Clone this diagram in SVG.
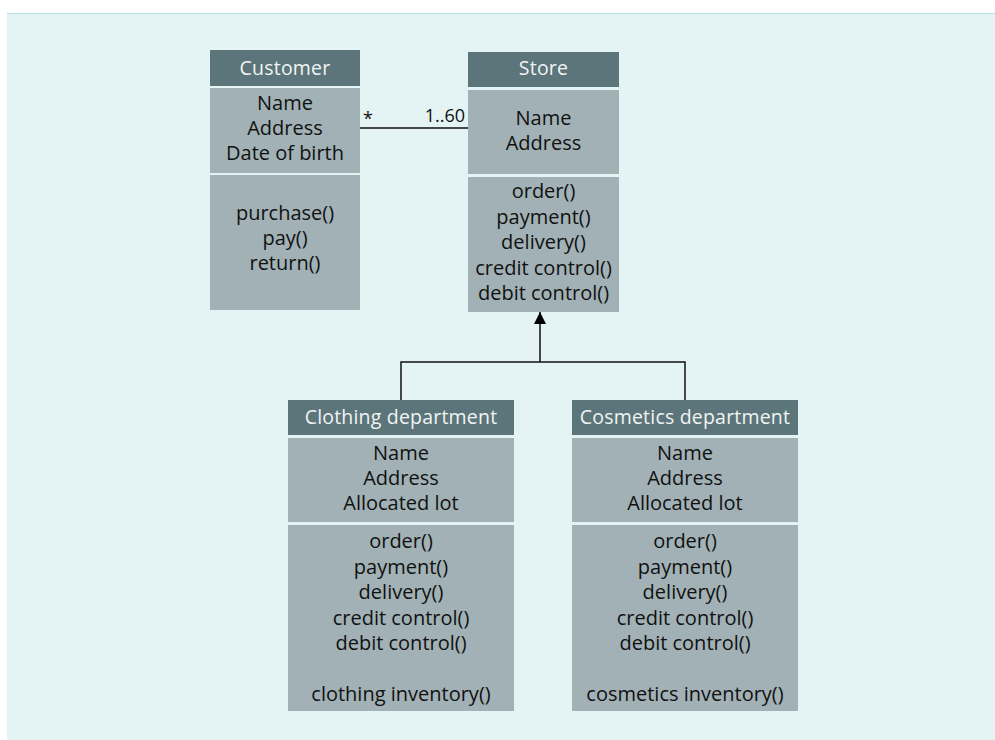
<svg xmlns="http://www.w3.org/2000/svg" width="995" height="740" viewBox="0 0 995 740">
  <style>
    .hdr { fill: #5b757a; }
    .body { fill: #a1b1b5; }
    .title { font-family: "Open Sans", "Noto Sans", sans-serif; font-size: 19.5px; fill: #f2f4f4; text-anchor: middle; letter-spacing: 0.2px; }
    .txt { font-family: "Open Sans", "Noto Sans", sans-serif; font-size: 20px; fill: #111; text-anchor: middle; }
    .mult { font-family: "Open Sans", "Noto Sans", sans-serif; font-size: 18px; fill: #111; }
    .line { stroke: #111; stroke-width: 1.5; fill: none; }
  </style>
  <defs>
    <marker id="inherit" viewBox="0 0 12 12" refX="12" refY="6" markerWidth="12" markerHeight="12" markerUnits="userSpaceOnUse" orient="auto">
      <path d="M0,0 L12,6 L0,12 Z" fill="#000"/>
    </marker>
  </defs>

  <!-- panel background -->
  <rect x="7" y="13" width="988" height="727" fill="#e4f3f4"/>
  <line x1="7" y1="13.5" x2="995" y2="13.5" stroke="#b9dfe1" stroke-width="1"/>

  <!-- connectors -->
  <g id="connectors">
    <line class="line" x1="360" y1="128" x2="468" y2="128"/>
    <text class="mult" x="363" y="125">*</text>
    <text class="mult" x="465" y="122" text-anchor="end">1..60</text>
    <path class="line" d="M401,400 V362 H685 V400"/>
    <line class="line" x1="540" y1="362" x2="540" y2="312" marker-end="url(#inherit)"/>
  </g>

  <!-- Customer -->
  <g id="customer">
    <rect class="hdr" x="210" y="50" width="150" height="36"/>
    <rect class="body" x="210" y="88" width="150" height="85"/>
    <rect class="body" x="210" y="175" width="150" height="135"/>
    <text class="title" x="285" y="75">Customer</text>
    <text class="txt" x="285" y="110">Name</text>
    <text class="txt" x="285" y="135">Address</text>
    <text class="txt" x="285" y="160">Date of birth</text>
    <text class="txt" x="285" y="220">purchase()</text>
    <text class="txt" x="285" y="245">pay()</text>
    <text class="txt" x="285" y="270">return()</text>
  </g>

  <!-- Store -->
  <g id="store">
    <rect class="hdr" x="468" y="52" width="151" height="35"/>
    <rect class="body" x="468" y="90" width="151" height="84"/>
    <rect class="body" x="468" y="177" width="151" height="135"/>
    <text class="title" x="543.5" y="75">Store</text>
    <text class="txt" x="543.5" y="125">Name</text>
    <text class="txt" x="543.5" y="150">Address</text>
    <text class="txt" x="543.5" y="198">order()</text>
    <text class="txt" x="543.5" y="223.5">payment()</text>
    <text class="txt" x="543.5" y="249">delivery()</text>
    <text class="txt" x="543.5" y="274.5">credit control()</text>
    <text class="txt" x="543.5" y="300">debit control()</text>
  </g>

  <!-- Clothing department -->
  <g id="clothing">
    <rect class="hdr" x="288" y="400" width="226" height="35"/>
    <rect class="body" x="288" y="438" width="226" height="84"/>
    <rect class="body" x="288" y="525" width="226" height="186"/>
    <text class="title" x="401" y="424">Clothing department</text>
    <text class="txt" x="401" y="460">Name</text>
    <text class="txt" x="401" y="485">Address</text>
    <text class="txt" x="401" y="510">Allocated lot</text>
    <text class="txt" x="401" y="548">order()</text>
    <text class="txt" x="401" y="573.5">payment()</text>
    <text class="txt" x="401" y="599">delivery()</text>
    <text class="txt" x="401" y="624.5">credit control()</text>
    <text class="txt" x="401" y="650">debit control()</text>
    <text class="txt" x="401" y="701">clothing inventory()</text>
  </g>

  <!-- Cosmetics department -->
  <g id="cosmetics">
    <rect class="hdr" x="572" y="400" width="226" height="35"/>
    <rect class="body" x="572" y="438" width="226" height="84"/>
    <rect class="body" x="572" y="525" width="226" height="186"/>
    <text class="title" x="685" y="424">Cosmetics department</text>
    <text class="txt" x="685" y="460">Name</text>
    <text class="txt" x="685" y="485">Address</text>
    <text class="txt" x="685" y="510">Allocated lot</text>
    <text class="txt" x="685" y="548">order()</text>
    <text class="txt" x="685" y="573.5">payment()</text>
    <text class="txt" x="685" y="599">delivery()</text>
    <text class="txt" x="685" y="624.5">credit control()</text>
    <text class="txt" x="685" y="650">debit control()</text>
    <text class="txt" x="685" y="701">cosmetics inventory()</text>
  </g>
</svg>
